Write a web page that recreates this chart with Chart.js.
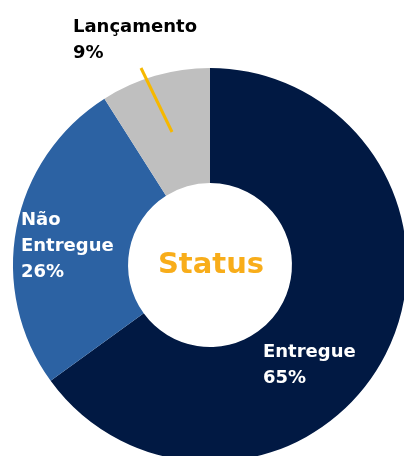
<!DOCTYPE html>
<html>
<head>
<meta charset="utf-8">
<script src="https://cdn.jsdelivr.net/npm/chart.js@4"></script>
<style>
  html, body { margin: 0; padding: 0; background: #fff; overflow: hidden; width: 404px; height: 456px; }
  #wrap { position: absolute; left: 0; top: 0; width: 420px; height: 530px; }
</style>
</head>
<body>
<div id="wrap"><canvas id="statusChart"></canvas></div>
<script>
// dados do gráfico
var categorias = ['Entregue', 'Não Entregue', 'Lançamento'];
var percentuais = [65, 26, 9];
var cores = ['#011943', '#2c62a3', '#bfbfbf'];

// posição dos rótulos (x, y da primeira linha) e cor do texto
var rotulos = [
  { x: 263, y: 357, cor: '#ffffff', quebra: false },
  { x: 21, y: 225, cor: '#ffffff', quebra: true },
  { x: 73, y: 32, cor: '#000000', quebra: false }
];

var labelPlugin = {
  id: 'rotulos',
  afterDraw: function(chart) {
    var ctx = chart.ctx;
    ctx.save();
    ctx.font = 'bold 18px "DejaVu Sans"';
    ctx.textBaseline = 'alphabetic';
    ctx.textAlign = 'left';
    // linha guia do Lançamento
    ctx.strokeStyle = '#f6b800';
    ctx.lineWidth = 3;
    ctx.beginPath();
    ctx.moveTo(141, 68);
    ctx.lineTo(172, 132);
    ctx.stroke();

    chart.data.labels.forEach(function(lbl, i) {
      var r = rotulos[i];
      var linhas = r.quebra ? lbl.split(' ') : [lbl];
      linhas.push(chart.data.datasets[0].data[i] + '%');
      ctx.fillStyle = r.cor;
      linhas.forEach(function(t, k) {
        ctx.fillText(t, r.x, r.y + k * 26);
      });
    });

    // texto central
    var arc = chart.getDatasetMeta(0).data[0];
    ctx.font = 'bold 29px "DejaVu Sans"';
    ctx.fillStyle = '#f8ad1a';
    ctx.textAlign = 'center';
    ctx.textBaseline = 'middle';
    ctx.fillText('Status', arc.x + 1, arc.y);
    ctx.restore();
  }
};

new Chart(document.getElementById('statusChart'), {
  type: 'doughnut',
  data: {
    labels: categorias,
    datasets: [{
      data: percentuais,
      backgroundColor: cores,
      borderWidth: 0
    }]
  },
  options: {
    responsive: true,
    maintainAspectRatio: false,
    animation: false,
    cutout: '41.6%',
    layout: { padding: { left: 13, top: 68, right: 13, bottom: 68 } },
    plugins: {
      legend: { display: false },
      tooltip: { enabled: false }
    }
  },
  plugins: [labelPlugin]
});
</script>
</body>
</html>
